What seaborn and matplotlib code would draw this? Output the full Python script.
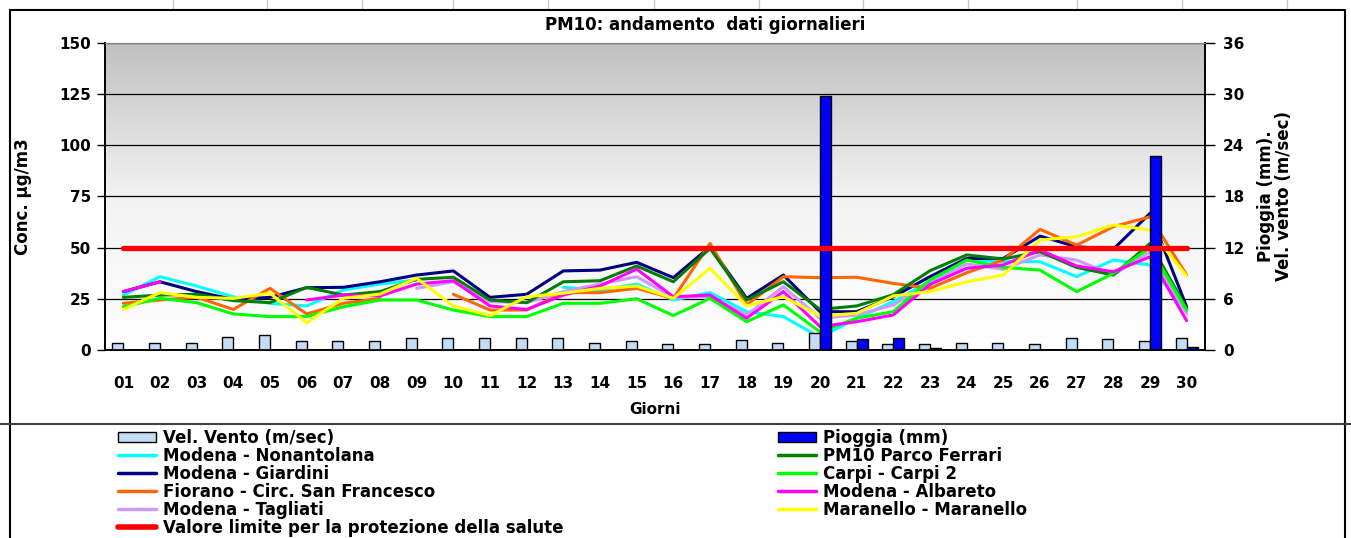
import numpy as np
import pandas as pd
import matplotlib
matplotlib.use("Agg")
import matplotlib.pyplot as plt
import seaborn as sns
from matplotlib.colors import LinearSegmentedColormap
from matplotlib.lines import Line2D
from matplotlib.patches import Patch

nan = np.nan

# --- dati ---
giorni = ["01", "02", "03", "04", "05", "06", "07", "08", "09", "10",
          "11", "12", "13", "14", "15", "16", "17", "18", "19", "20",
          "21", "22", "23", "24", "25", "26", "27", "28", "29", "30"]

nonantolana = [26.8, 35.8, 31.2, 26.0, 22.8, 21.5, 29.3, 32.2, 34.2, nan,
               nan, nan, 30.6, 29.3, 32.2, 24.4, 28.0, 18.7, 16.3, 6.2,
               15.5, 23.6, 33.5, 43.9, 43.1, 43.1, 35.8, 43.9, 41.5, 18.7]
giardini = [28.5, 33.3, 28.5, 24.7, 25.7, 30.4, 30.6, 33.3, 36.6, 38.6,
            25.7, 27.2, 38.6, 39.0, 42.8, 35.3, 50.4, 25.2, 36.6, 18.7,
            18.7, 26.0, 35.8, 44.7, 44.7, 55.6, 50.4, 49.2, 66.7, 21.1]
fiorano = [22.8, 24.4, 25.7, 19.8, 30.1, 17.6, 22.8, 25.2, nan, 27.2,
           19.5, 19.5, 28.0, 28.0, 30.1, 25.2, 52.0, 22.0, 35.8, 35.3,
           35.5, 32.5, 30.1, 37.7, 43.9, 58.9, 51.2, 60.2, 65.0, 36.6]
tagliati = [nan, nan, nan, nan, nan, nan, nan, nan, 30.1, 33.3,
            23.6, 23.1, 28.5, 32.2, 35.8, 25.7, 26.0, 17.1, 30.9, 15.5,
            17.1, 22.0, 32.5, 42.0, 39.4, 46.4, 43.9, 36.6, 48.0, 17.9]
parco_ferrari = [25.7, 26.8, 27.2, 24.1, 23.1, 30.6, 26.8, 28.5, 34.5, 35.5,
                 24.4, 23.1, 33.3, 33.8, 41.0, 33.3, 49.6, 24.4, 33.3, 19.8,
                 21.5, 27.0, 38.7, 46.4, 44.4, 48.0, 40.3, 36.6, 52.0, 20.3]
carpi = [21.1, 25.2, 23.1, 17.6, 16.3, 16.3, 21.1, 24.4, 24.4, 19.5,
         16.3, 16.3, 22.8, 22.8, 25.0, 16.8, 25.2, 13.8, 22.0, 8.9,
         15.5, 18.7, 34.2, 43.9, 40.3, 39.0, 28.5, 37.4, 50.0, 19.5]
albareto = [28.5, 33.3, nan, nan, nan, 24.4, 26.8, 26.4, 32.2, 33.8,
            21.5, 19.8, 26.8, 31.2, 39.5, 26.0, 26.8, 15.5, 28.5, 11.4,
            13.8, 17.1, 32.0, 39.9, 41.5, 48.8, 41.0, 38.2, 45.5, 14.3]
maranello = [19.8, 28.0, 25.7, 25.2, 27.7, 13.3, 25.2, 27.3, 35.0, 21.5,
             16.8, 26.0, 27.7, 30.1, 31.2, 25.2, 39.9, 21.5, 26.0, 16.6,
             17.9, 26.4, 28.5, 33.3, 36.6, 53.7, 55.3, 61.0, 58.6, 36.1]

vento = [0.86, 0.86, 0.86, 1.56, 1.76, 1.09, 1.05, 1.05, 1.44, 1.44,
         1.44, 1.44, 1.44, 0.86, 1.05, 0.70, 0.70, 1.20, 0.86, 2.00,
         1.00, 0.70, 0.70, 0.86, 0.86, 0.70, 1.37, 1.25, 1.05, 1.37]
pioggia = [0, 0, 0, 0, 0, 0, 0, 0, 0, 0,
           0, 0, 0, 0, 0, 0, 0, 0, 0, 29.8,
           1.25, 1.45, 0.2, 0, 0, 0, 0, 0, 22.7, 0.39]

valore_limite = 50
conc_max = 150
pioggia_max = 36

stazioni = [
    ("Modena - Nonantolana", nonantolana, "#00FFFF"),
    ("Modena - Giardini", giardini, "#000080"),
    ("Fiorano - Circ. San Francesco", fiorano, "#FF6600"),
    ("Modena - Tagliati", tagliati, "#CC99FF"),
    ("PM10 Parco Ferrari", parco_ferrari, "#008000"),
    ("Carpi - Carpi 2", carpi, "#00FF00"),
    ("Modena - Albareto", albareto, "#FF00FF"),
    ("Maranello - Maranello", maranello, "#FFFF00"),
]
col_vento = "#C5DCF5"
col_pioggia = "#0000FF"

sns.set_style("white")
plt.rcParams["font.family"] = ["DejaVu Sans"]
plt.rcParams["font.weight"] = "bold"
plt.rcParams["text.color"] = "black"
plt.rcParams["axes.labelcolor"] = "black"
plt.rcParams["xtick.color"] = "black"
plt.rcParams["ytick.color"] = "black"

W, H = 1351, 538
fig = plt.figure(figsize=(W / 100, H / 100), dpi=100)
ax = fig.add_axes([105 / W, 1 - 350 / H, 1100 / W, 307.3 / H])
ax2 = ax.twinx()

# sfondo sfumato grigio -> bianco
grad = np.linspace(0, 1, 256)[:, None]
cmap_bg = LinearSegmentedColormap.from_list("bg", ["#FFFFFF", "#F2F2F2", "#C0C0C0"])
ax.imshow(grad, extent=[-0.5, 29.5, 0, conc_max], origin="lower",
          aspect="auto", cmap=cmap_bg, zorder=0)


def disegna_serie(valori, colore, lw, asse, z=3):
    s = pd.Series(valori, index=range(len(valori)), dtype=float)
    gruppi = s.isna().cumsum()
    for _, seg in s.dropna().groupby(gruppi[s.notna()]):
        sns.lineplot(x=seg.index.to_numpy(), y=seg.to_numpy(), ax=asse,
                     color=colore, lw=lw, legend=False, zorder=z)


for nome, valori, colore in stazioni:
    disegna_serie(valori, colore, 2.2, ax)

# barre vento / pioggia sull'asse destro
df_barre = pd.DataFrame({
    "giorno": giorni * 2,
    "valore": vento + pioggia,
    "serie": ["Vel. Vento (m/sec)"] * 30 + ["Pioggia (mm)"] * 30,
})
sns.barplot(data=df_barre, x="giorno", y="valore", hue="serie",
            hue_order=["Vel. Vento (m/sec)", "Pioggia (mm)"],
            palette={"Vel. Vento (m/sec)": col_vento, "Pioggia (mm)": col_pioggia},
            order=giorni, width=0.6, dodge=True, saturation=1,
            edgecolor="black", linewidth=1.0, legend=False, ax=ax2, zorder=2)

# valore limite (disegnato sull'asse destro, sopra le barre)
limite_dx = [valore_limite * pioggia_max / conc_max] * len(giorni)
disegna_serie(limite_dx, "#FF0000", 3.8, ax2, z=5)

# assi
ax.set_xlim(-0.5, 29.5)
ax.set_ylim(0, conc_max)
ax2.set_ylim(0, pioggia_max)
ax.set_yticks(range(0, conc_max + 1, 25))
ax2.set_yticks(range(0, pioggia_max + 1, 6))
ax.set_xticks(range(len(giorni)))
ax.set_xticklabels(giorni)
ax.set_xticks(np.arange(-0.5, 30, 1), minor=True)
ax.tick_params(axis="x", which="major", length=0, pad=19, labelsize=11)
ax.tick_params(axis="x", which="minor", length=6, width=1, direction="out", color="black")
ax.tick_params(axis="y", length=6, width=1, direction="out", pad=4, labelsize=11, left=True)
ax2.tick_params(axis="y", length=7, width=1, direction="out", pad=6, labelsize=11, right=True)

ax.grid(axis="y", color="black", lw=0.9)
ax.grid(axis="x", visible=False)
ax2.grid(False)

for a in (ax, ax2):
    a.spines["left"].set_color("black")
    a.spines["right"].set_color("black")
    a.spines["bottom"].set_color("black")
    a.spines["top"].set_color("#808080")
    a.spines["left"].set_linewidth(1.2)
    a.spines["right"].set_linewidth(1.2)
    a.spines["bottom"].set_linewidth(1.2)

ax.set_xlabel("Giorni", fontsize=11, fontweight="bold", labelpad=8)
ax.set_ylabel("Conc. µg/m3", fontsize=12, fontweight="bold")
ax.yaxis.set_label_coords(-0.066, 0.5)
ax2.set_ylabel("Pioggia (mm).\nVel. vento (m/sec)", fontsize=12,
               fontweight="bold", linespacing=1.0)
ax2.yaxis.set_label_coords(1.047, 0.5)

fig.text(705 / W, 1 - 25 / H, "PM10: andamento  dati giornalieri",
         ha="center", va="center", fontsize=12, fontweight="bold")


# cornice del grafico e griglia del foglio
def linea(x0, y0, x1, y1, colore="black", lw=1.5):
    fig.add_artist(Line2D([x0 / W, x1 / W], [1 - y0 / H, 1 - y1 / H],
                          transform=fig.transFigure, color=colore, lw=lw))


for xc in [173, 267, 362, 453, 548, 654, 759, 863, 968, 1077, 1182, 1287]:
    linea(xc, 0, xc, 10, "#C8C8C8", 1)
linea(10, 10, 1345, 10)
linea(10, 10, 10, H)
linea(1345, 10, 1345, H)
linea(0, 424, W, 424, "#404040", 1.5)

# legenda su due colonne
def maniglia(colore, lw=2.5):
    return Line2D([], [], color=colore, lw=lw)


col_sx = [(Patch(facecolor=col_vento, edgecolor="black"), "Vel. Vento (m/sec)")]
col_sx += [(maniglia(c), n) for n, v, c in stazioni[:4]]
col_sx += [(maniglia("#FF0000", 4), "Valore limite per la protezione della salute")]
col_dx = [(Patch(facecolor=col_pioggia, edgecolor="black"), "Pioggia (mm)")]
col_dx += [(maniglia(c), n) for n, v, c in stazioni[4:]]

for voci, x0 in [(col_sx, 118), (col_dx, 778)]:
    fig.legend([h for h, _ in voci], [l for _, l in voci], loc="upper left",
               bbox_to_anchor=(x0 / W, 1 - 429 / H), frameon=False,
               borderpad=0, borderaxespad=0, handlelength=2.3,
               handletextpad=0.4, labelspacing=0.0, handleheight=0.6,
               prop={"weight": "bold", "size": 12})

fig.savefig("out.png", dpi=100)
